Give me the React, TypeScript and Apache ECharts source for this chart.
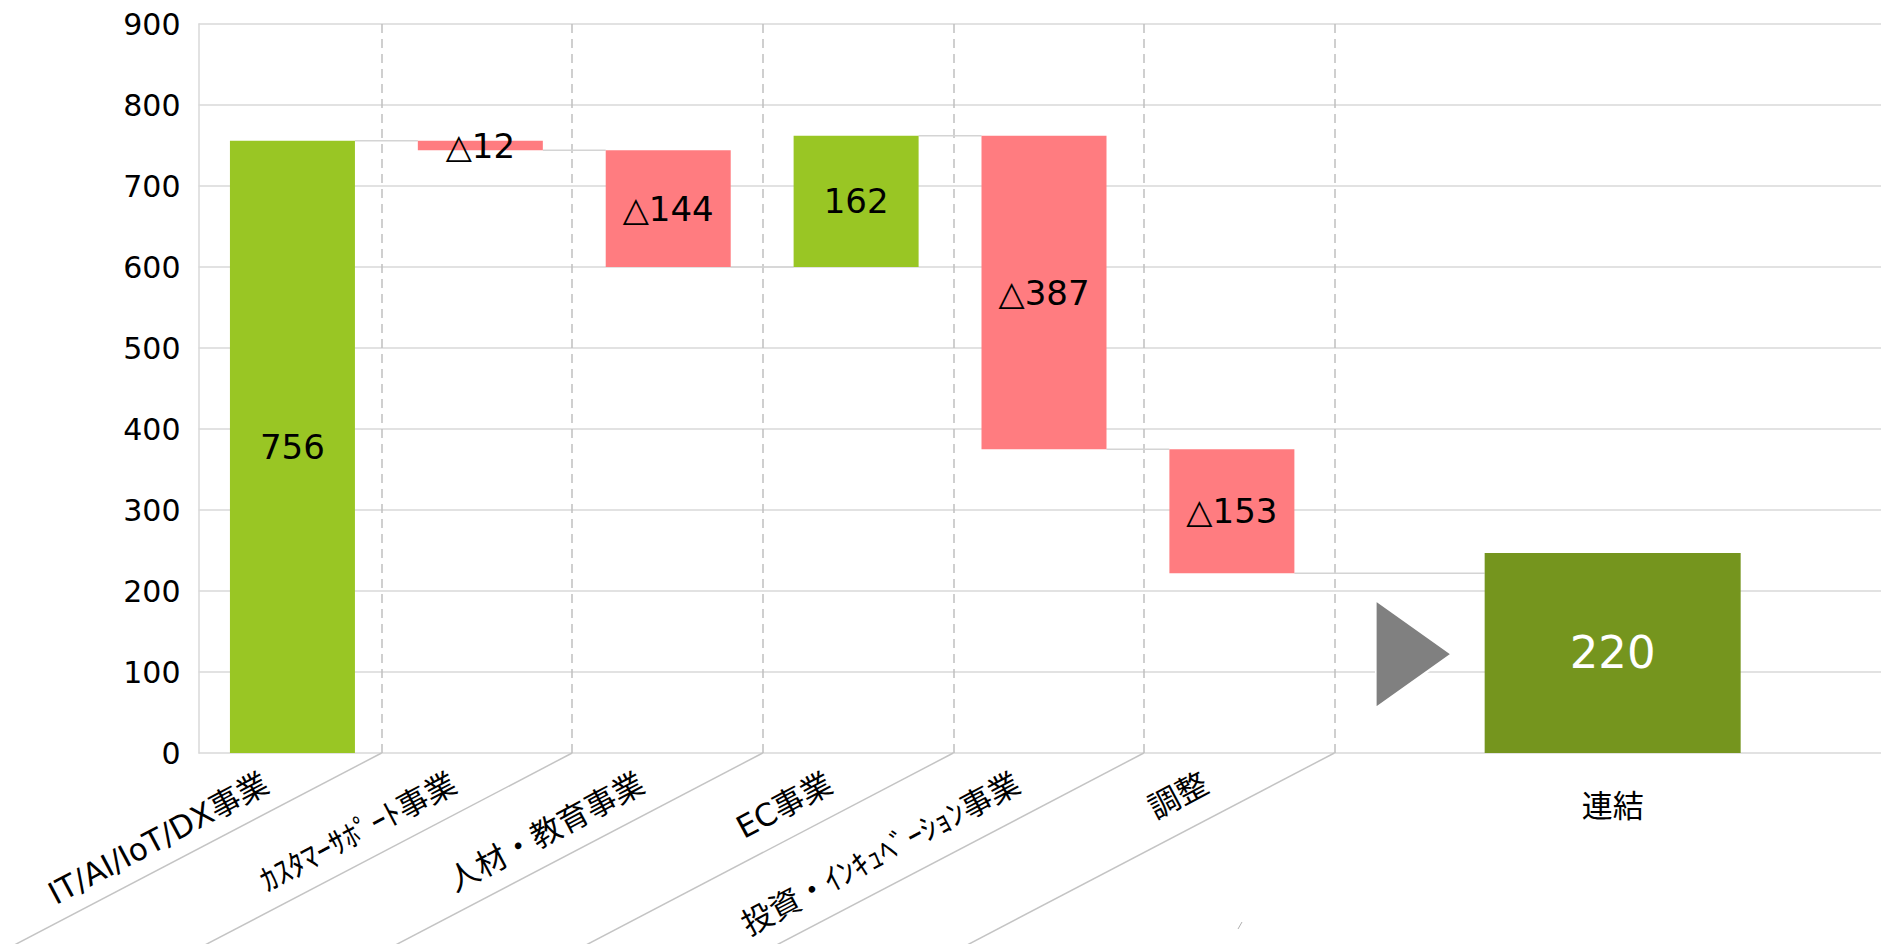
import { useEffect, useRef } from "react";
import * as echarts from "echarts";

// ---- data ----
const categories = [
  "IT/AI/IoT/DX事業",
  "ｶｽﾀﾏｰｻﾎﾟｰﾄ事業",
  "人材・教育事業",
  "EC事業",
  "投資・ｲﾝｷｭﾍﾞｰｼｮﾝ事業",
  "調整",
];
const deltas = [756, -12, -144, 162, -387, -153];
const totalCategory = "連結";
const totalLabel = "220";
const totalBarHeight = 247;
const arrowValue = 122;
const yMin = 0;
const yMax = 900;
const yInterval = 100;

// ---- layout / style constants ----
const SLOT_COUNT = 9; // 6 categories, arrow slot, total slot, empty slot
const ARROW_SLOT = 6;
const TOTAL_SLOT = 7;
const GRID_LEFT = 198.5;
const GRID_WIDTH = 1691;
const TOTAL_SHIFT = 5;
const BAR_W = 125;
const TOTAL_BAR_W = 256;
const NUM_FONT = "'DejaVu Sans', 'Noto Sans CJK JP', sans-serif";
const LABEL_FONT = "'DejaVu Sans', 'Noto Sans CJK JP', sans-serif";
const GREEN = "#99C624";
const RED = "#FF7C80";
const DARK_GREEN = "#75951E";
const DIAG_ANGLE = (27.6 * Math.PI) / 180;

export default function App() {
  const ref = useRef<HTMLDivElement>(null);

  useEffect(() => {
    if (!ref.current) return;
    const chart = echarts.init(ref.current, null, { renderer: "svg" });

    // waterfall levels
    const base: (number | string)[] = [];
    const pos: (number | string)[] = [];
    const neg: (number | string)[] = [];
    const ends: number[] = [];
    let run = 0;
    deltas.forEach((d) => {
      const next = run + d;
      base.push(Math.min(run, next));
      if (d >= 0) {
        pos.push(d);
        neg.push("-");
      } else {
        pos.push("-");
        neg.push(-d);
      }
      ends.push(next);
      run = next;
    });
    while (base.length < SLOT_COUNT) {
      base.push("-");
      pos.push("-");
      neg.push("-");
    }
    const connectors = ends.map((lvl, i) => [
      i,
      i < deltas.length - 1 ? i + 1 : TOTAL_SLOT,
      lvl,
    ]);
    const axis0 = [...categories];
    while (axis0.length < SLOT_COUNT) axis0.push("");
    const axis1 = Array.from({ length: SLOT_COUNT }, (_, i) =>
      i === TOTAL_SLOT ? totalCategory : ""
    );
    const totalData = Array.from({ length: SLOT_COUNT }, (_, i) =>
      i === TOTAL_SLOT ? totalBarHeight : "-"
    );
    const boundaryIdx = Array.from({ length: categories.length }, (_, i) => [i]);

    const hiddenY = (gridIndex: number) => ({
      type: "value",
      gridIndex,
      min: yMin,
      max: yMax,
      show: false,
      splitLine: { show: false },
    });

    const option: any = {
      animation: false,
      grid: [
        { left: GRID_LEFT, width: GRID_WIDTH, top: 24, bottom: 191, outerBoundsMode: "none", containLabel: false },
        { left: 381.6, width: 952.8, top: 24, bottom: 191, outerBoundsMode: "none", containLabel: false },
        { left: GRID_LEFT + TOTAL_SHIFT, width: GRID_WIDTH, top: 24, bottom: 191, outerBoundsMode: "none", containLabel: false },
      ],
      xAxis: [
        {
          type: "category",
          gridIndex: 0,
          position: "bottom",
          data: axis0,
          axisLine: { show: false },
          axisTick: { show: false },
          splitLine: { show: false },
          axisLabel: {
            interval: 0,
            rotate: 28,
            margin: 14,
            padding: [0, 30, 0, 0],
            fontSize: 31,
            color: "#000",
            fontFamily: LABEL_FONT,
          },
        },
        {
          type: "category",
          gridIndex: 2,
          position: "bottom",
          data: axis1,
          axisLine: { show: false },
          axisTick: { show: false },
          splitLine: { show: false },
          axisLabel: {
            interval: 0,
            margin: 37,
            fontSize: 31,
            color: "#000",
            fontFamily: LABEL_FONT,
          },
        },
        {
          type: "value",
          gridIndex: 1,
          min: 0,
          max: categories.length - 1,
          interval: 1,
          axisLine: { show: false },
          axisTick: { show: false },
          axisLabel: { show: false },
          splitLine: {
            show: true,
            lineStyle: { color: "#c0c0c0", width: 1.5, type: [9, 6] },
          },
        },
      ],
      yAxis: [
        {
          type: "value",
          gridIndex: 0,
          min: yMin,
          max: yMax,
          interval: yInterval,
          axisLine: { show: true, lineStyle: { color: "#d9d9d9", width: 1.5 } },
          axisTick: { show: false },
          axisLabel: {
            fontSize: 30,
            color: "#000",
            margin: 18,
            fontFamily: NUM_FONT,
          },
          splitLine: { show: true, lineStyle: { color: "#d9d9d9", width: 1.5 } },
        },
        hiddenY(1),
        hiddenY(2),
      ],
      series: [
        {
          type: "bar",
          name: "base",
          stack: "w",
          xAxisIndex: 0,
          yAxisIndex: 0,
          barWidth: BAR_W,
          silent: true,
          itemStyle: { color: "transparent" },
          data: base,
        },
        {
          type: "bar",
          name: "increase",
          stack: "w",
          xAxisIndex: 0,
          yAxisIndex: 0,
          barWidth: BAR_W,
          itemStyle: { color: GREEN },
          label: {
            show: true,
            position: "inside",
            color: "#000",
            fontSize: 34,
            fontFamily: NUM_FONT,
          },
          data: pos,
        },
        {
          type: "bar",
          name: "decrease",
          stack: "w",
          xAxisIndex: 0,
          yAxisIndex: 0,
          barWidth: BAR_W,
          itemStyle: { color: RED },
          label: {
            show: true,
            position: "inside",
            color: "#000",
            fontSize: 34,
            fontFamily: NUM_FONT,
            formatter: (p: any) => "△" + p.value,
          },
          data: neg,
        },
        {
          type: "custom",
          name: "connectors",
          xAxisIndex: 0,
          yAxisIndex: 0,
          silent: true,
          encode: { x: [0, 1], y: 2 },
          data: connectors,
          renderItem: (_p: any, api: any) => {
            const i0 = api.value(0);
            const i1 = api.value(1);
            const lvl = api.value(2);
            const a = api.coord([i0, lvl]);
            const b = api.coord([i1, lvl]);
            const ea = i0 === TOTAL_SLOT ? TOTAL_BAR_W / 2 + TOTAL_SHIFT : BAR_W / 2;
            const eb = i1 === TOTAL_SLOT ? TOTAL_BAR_W / 2 - TOTAL_SHIFT : BAR_W / 2;
            return {
              type: "line",
              shape: { x1: a[0] + ea, y1: a[1], x2: b[0] - eb, y2: b[1] },
              style: { stroke: "#d4d4d4", lineWidth: 1.5 },
            };
          },
        },
        {
          type: "bar",
          name: totalCategory,
          xAxisIndex: 1,
          yAxisIndex: 2,
          barWidth: TOTAL_BAR_W,
          itemStyle: { color: DARK_GREEN },
          label: {
            show: true,
            position: "inside",
            color: "#fff",
            fontSize: 45,
            fontFamily: NUM_FONT,
            formatter: () => totalLabel,
          },
          data: totalData,
        },
        {
          type: "scatter",
          name: "arrow",
          xAxisIndex: 0,
          yAxisIndex: 0,
          silent: true,
          symbol: "path://M0 0L10 7L0 14Z",
          symbolSize: [76, 108],
          symbolOffset: [-6, 0],
          itemStyle: { color: "#808080", opacity: 1, borderColor: "#fff", borderWidth: 2 },
          data: [[ARROW_SLOT, arrowValue]],
        },
        {
          type: "custom",
          name: "diagonals",
          xAxisIndex: 2,
          yAxisIndex: 1,
          silent: true,
          data: boundaryIdx,
          renderItem: (_p: any, api: any) => {
            const p = api.coord([api.value(0), 0]);
            const len = 460;
            return {
              type: "line",
              shape: {
                x1: p[0],
                y1: p[1],
                x2: p[0] - len * Math.cos(DIAG_ANGLE),
                y2: p[1] + len * Math.sin(DIAG_ANGLE),
              },
              style: { stroke: "#c4c4c4", lineWidth: 1.5 },
            };
          },
        },
      ],
      graphic: [
        {
          type: "line",
          shape: { x1: 1238, y1: 929, x2: 1242, y2: 922 },
          style: { stroke: "#b0b0b0", lineWidth: 1 },
        },
      ],
    };

    chart.setOption(option);
    return () => chart.dispose();
  }, []);

  return (
    <div
      ref={ref}
      style={{ position: "absolute", left: 0, top: 0, width: 1881, height: 944, background: "#fff" }}
    />
  );
}
